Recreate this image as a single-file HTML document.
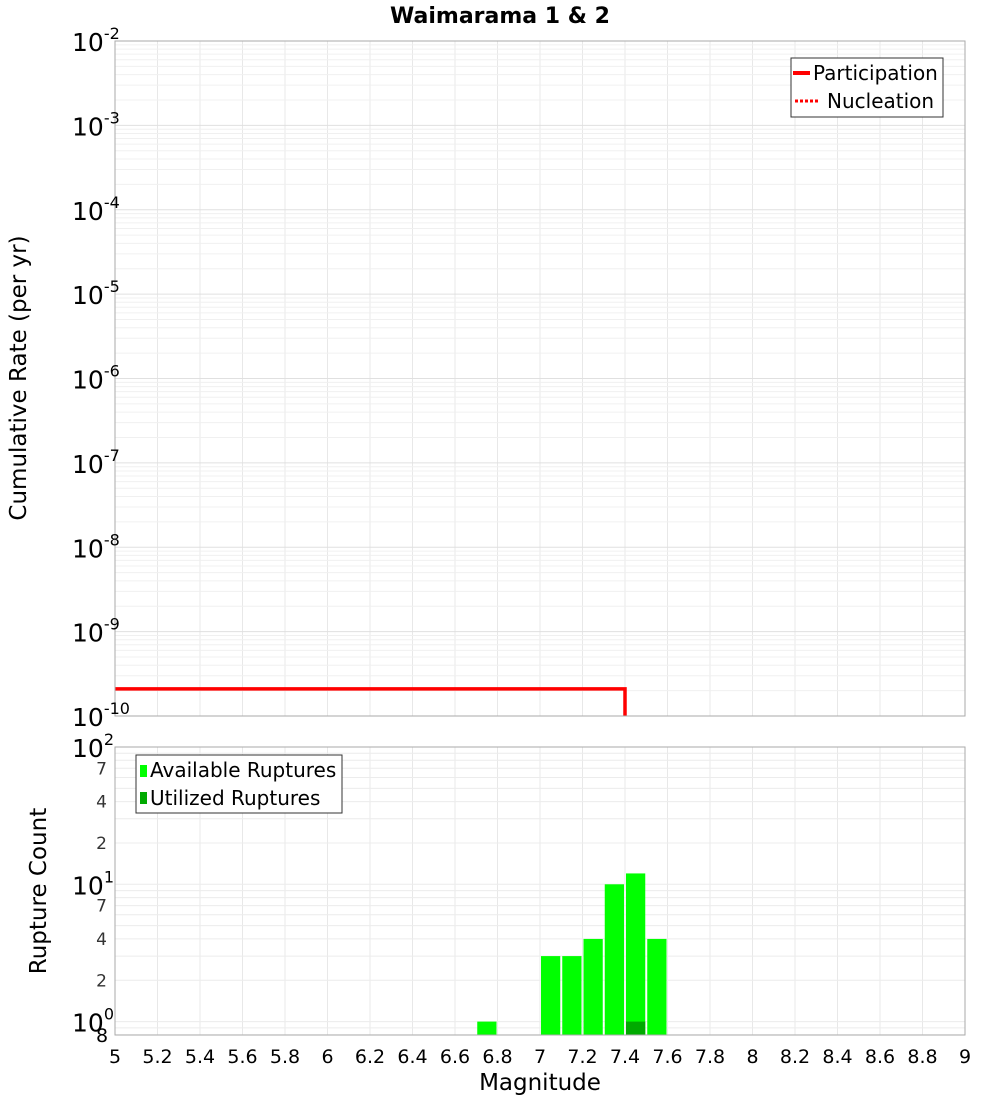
<!DOCTYPE html>
<html><head><meta charset="utf-8"><style>
body{margin:0;background:#fff;font-family:"Liberation Sans","DejaVu Sans",sans-serif}
</style></head><body>
<svg id="c" width="1000" height="1100" xmlns="http://www.w3.org/2000/svg" font-family="DejaVu Sans, Liberation Sans, sans-serif">
<text x="500" y="23" text-anchor="middle" font-size="22" font-weight="bold">Waimarama 1 &amp; 2</text>
<g id="grid"></g>
<g id="marks"></g>
<rect x="115" y="41" width="850" height="675" fill="none" stroke="#aaa"/>
<rect x="115" y="747" width="850" height="288" fill="none" stroke="#aaa"/>
<g id="labels"></g>
<text transform="translate(26,378) rotate(-90)" text-anchor="middle" font-size="23">Cumulative Rate (per yr)</text>
<text transform="translate(46,891) rotate(-90)" text-anchor="middle" font-size="23">Rupture Count</text>
<text x="540" y="1090" text-anchor="middle" font-size="23">Magnitude</text>
<g>
<rect x="791" y="58" width="152" height="59" fill="#fff" stroke="#333"/>
<line x1="793" y1="73" x2="810" y2="73" stroke="red" stroke-width="4"/>
<text x="813" y="80" font-size="20">Participation</text>
<line x1="795" y1="101" x2="820" y2="101" stroke="red" stroke-width="3" stroke-dasharray="3,2"/>
<text x="827" y="108" font-size="20">Nucleation</text>
</g>
<g>
<rect x="136" y="755" width="206" height="58" fill="#fff" stroke="#333"/>
<rect x="140" y="765" width="7" height="12" fill="#00ff00"/>
<text x="150" y="777" font-size="20">Available Ruptures</text>
<rect x="140" y="792" width="7" height="12" fill="#00aa00"/>
<text x="150" y="805" font-size="20">Utilized Ruptures</text>
</g>
</svg>
<script>
const partMags=[5.0,7.4];
const partRates=[2.1e-10,2.1e-10];
const binStarts=[6.7,7.0,7.1,7.2,7.3,7.4,7.5];
const availCounts=[1,3,3,4,10,12,4];
const utilBins=[7.4];
const utilCounts=[1];
const xTicks=["5","5.2","5.4","5.6","5.8","6","6.2","6.4","6.6","6.8","7","7.2","7.4","7.6","7.8","8","8.2","8.4","8.6","8.8","9"];
const topExps=[-2,-3,-4,-5,-6,-7,-8,-9,-10];
const botMinor=["7","4","2","7","4","2"];
const NS="http://www.w3.org/2000/svg";
const X=m=>115+(m-5)*212.5;
const YT=v=>41+(-2-Math.log10(v))*84.375;
const YB=v=>747+(2-Math.log10(v))*137.3;
function mk(p,t,a){const e=document.createElementNS(NS,t);for(const k in a)e.setAttribute(k,a[k]);document.getElementById(p).appendChild(e);return e;}
xTicks.forEach(t=>{const x=X(+t);
 let l=mk('grid','line',{x1:x,x2:x,y1:41,y2:716,stroke:'#e8e8e8'});
 
 l=mk('grid','line',{x1:x,x2:x,y1:747,y2:1035,stroke:'#e8e8e8'});
 
 const tx=mk('labels','text',{x:x,y:1063,'text-anchor':'middle','font-size':19});tx.textContent=t;
 
});
for(let e=-10;e<-2;e++)for(let k=1;k<10;k++){const y=YT(k*Math.pow(10,e));
 const l=mk('grid','line',{x1:115,x2:965,y1:y,y2:y,stroke:k==1?'#e0e0e0':'#f0f0f0'});
 }
for(let e=-1;e<2;e++)for(let k=1;k<10;k++){const v=k*Math.pow(10,e);if(v<0.8)continue;const y=YB(v);
 const l=mk('grid','line',{x1:115,x2:965,y1:y,y2:y,stroke:'#ececec'});
 }
topExps.forEach(e=>{const y=YT(Math.pow(10,e));
 const t=mk('labels','text',{x:72,y:y+10,'font-size':25});
 t.innerHTML='10<tspan dy="-12" font-size="16">'+e+'</tspan>';
 });
[[100,'2'],[10,'1'],[1,'0']].forEach(([v,s])=>{const y=YB(v);
 const t=mk('labels','text',{x:72,y:y+10,'font-size':25});
 t.innerHTML='10<tspan dy="-12" font-size="16">'+s+'</tspan>';
 });
[70,40,20,7,4,2].forEach((v,i)=>{const t=mk('labels','text',{x:107,y:YB(v)+6,'font-size':17,'text-anchor':'end',fill:'#333'});
 t.textContent=botMinor[i];});
{const t=mk('labels','text',{x:96,y:1042,'font-size':19});t.textContent='8';}
{let d='';partMags.forEach((m,i)=>{d+=(i?'L':'M')+X(m)+','+YT(partRates[i]);});
 d+='L'+X(partMags[partMags.length-1])+',716';
 const p=mk('marks','path',{d:d,fill:'none',stroke:'red','stroke-width':3.5});
 }
binStarts.forEach((b,i)=>{const x0=X(b)+1,x1=X(b+0.1)-1,y=YB(availCounts[i]);
 const r=mk('marks','rect',{x:x0,y:y,width:x1-x0,height:1035-y,fill:'#00ff00'});
 });
utilBins.forEach((b,i)=>{const x0=X(b)+1,x1=X(b+0.1)-1,y=YB(utilCounts[i]);
 const r=mk('marks','rect',{x:x0,y:y,width:x1-x0,height:1035-y,fill:'#00aa00'});
 });
</script>
</body></html>
